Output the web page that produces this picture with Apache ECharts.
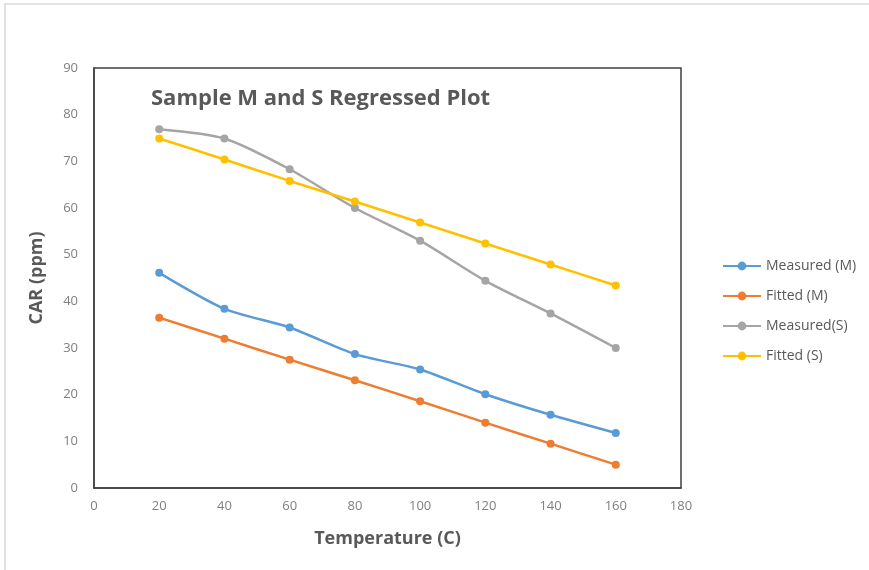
<!DOCTYPE html>
<html>
	<head>
		<meta charset="utf-8" />
		<title>Sample M and S Regressed Plot</title>
		<script src="https://cdn.jsdelivr.net/npm/echarts@6/dist/echarts.min.js"></script>
		<style>
			html, body { margin: 0; padding: 0; background: #fff; }
			#main { width: 869px; height: 570px; }
		</style>
	</head>
	<body>
		<div id="main"></div>
	<script>
	// data
	var temps = [20, 40, 60, 80, 100, 120, 140, 160];
	var measuredM = [46.1, 38.4, 34.4, 28.7, 25.4, 20.1, 15.7, 11.8];
	var fittedM = [36.5, 32.0, 27.5, 23.1, 18.6, 14.0, 9.5, 5.0];
	var measuredS = [76.9, 74.9, 68.3, 60.0, 53.0, 44.4, 37.4, 30.0];
	var fittedS = [74.9, 70.4, 65.8, 61.4, 56.9, 52.4, 47.9, 43.4];
	var names = ['Measured (M)', 'Fitted (M)', 'Measured(S)', 'Fitted (S)'];
	var colors = ['#5b9bd5', '#ed7d31', '#a5a5a5', '#ffc000'];

	function pairs(ys){
		return temps.map(function(t, i){ return [t, ys[i]]; });
	}

	var chart = echarts.init(document.getElementById('main'));

	var font = 'Open Sans, Noto Sans, sans-serif';

	// 系列
	var allData = [measuredM, fittedM, measuredS, fittedS];
	var series = allData.map(function(d, i){
		return {
			name: names[i],
			type: 'line',
			data: pairs(d),
			smooth: 0.25,
			symbol: 'circle',
			symbolSize: 8,
			lineStyle: { width: 2.5, color: colors[i] },
			itemStyle: { color: colors[i] }
		};
	});

	var option = {
		animation: false,
		backgroundColor: '#fff',
		color: colors,
		graphic: [{
			type: 'rect',
			shape: { x: 5, y: 4, width: 900, height: 600 },
			style: { fill: 'none', stroke: '#d9d9d9', lineWidth: 1.5 },
			silent: true
		}],
		title: {
			text: 'Sample M and S Regressed Plot',
			left: 146,
			top: 83,
			textStyle: { color: '#595959', fontSize: 22, fontWeight: 'bold', fontFamily: font }
		},
		legend: {
			orient: 'vertical',
			left: 717,
			top: 254,
			itemGap: 16,
			itemWidth: 38,
			itemHeight: 11,
			data: names,
			textStyle: { color: '#595959', fontSize: 14, fontFamily: font }
		},
		grid: {
			left: 94,
			right: 188,
			top: 68,
			bottom: 82,
			show: true,
			borderColor: '#404040',
			borderWidth: 1.5
		},
		xAxis: {
			type: 'value',
			min: 0,
			max: 180,
			interval: 20,
			name: 'Temperature (C)',
			nameLocation: 'middle',
			nameGap: 42,
			nameTextStyle: { color: '#595959', fontSize: 18, fontWeight: 'bold', fontFamily: font },
			axisLine: { show: true, lineStyle: { color: '#404040', width: 1.5 } },
			axisTick: { show: false },
			splitLine: { show: false },
			axisLabel: { color: '#7f7f7f', fontSize: 13, margin: 12, fontFamily: font }
		},
		yAxis: {
			type: 'value',
			min: 0,
			max: 90,
			interval: 10,
			name: 'CAR (ppm)',
			nameLocation: 'middle',
			nameGap: 48,
			nameTextStyle: { color: '#595959', fontSize: 18, fontWeight: 'bold', fontFamily: font },
			axisLine: { show: true, lineStyle: { color: '#404040', width: 1.5 } },
			axisTick: { show: false },
			splitLine: { show: false },
			axisLabel: { color: '#7f7f7f', fontSize: 13, margin: 16, fontFamily: font }
		},
		series: series
	};

	chart.setOption(option);
	</script>
	</body>
</html>
